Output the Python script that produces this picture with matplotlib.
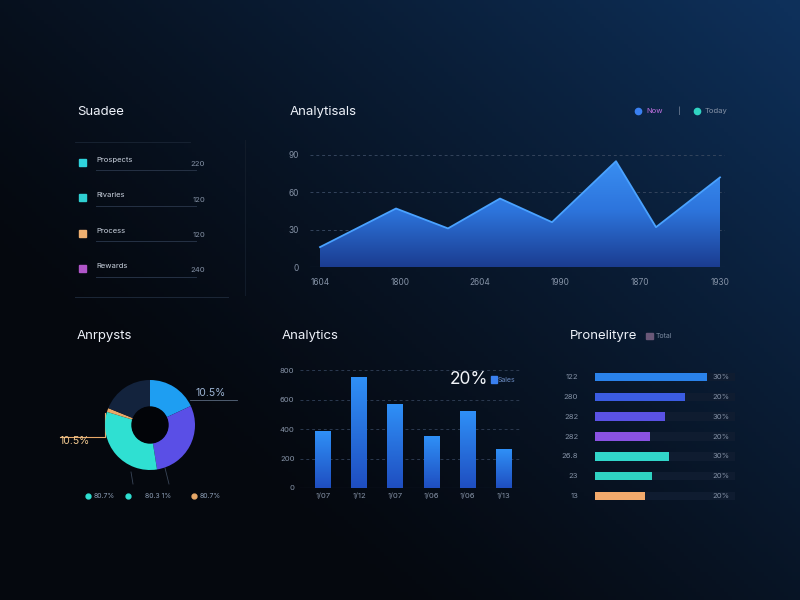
import numpy as np
import matplotlib.pyplot as plt
from matplotlib.colors import LinearSegmentedColormap, to_rgb

plt.rcParams['font.family'] = ['Inter', 'DejaVu Sans']

# ---- data ----
side_labels = ["Prospects", "Rivaries", "Process", "Rewards"]
side_values = ["220", "120", "120", "240"]
side_colors = ["#2fd3dc", "#2fd0d2", "#f0b070", "#b055c8"]

area_x = [0, 19, 32, 45, 58, 74, 84, 100]
area_y = [16, 47, 31, 55, 36, 85, 32, 72]
area_xticks = [0, 20, 40, 60, 80, 100]
area_xlabels = ["1604", "1800", "2604", "1990", "1870", "1930"]
area_yticks = [0, 30, 60, 90]

donut_sizes = [65, 106, 116, 5, 68]
donut_colors = ["#1e9ef2", "#5a4fe6", "#2fe0d2", "#e8a868", "#13233d"]

bar_values = [380, 746, 569, 346, 522, 264]
bar_labels = ["1/07", "1/12", "1/07", "1/06", "1/06", "1/13"]
bar_yticks = [0, 200, 400, 600, 800]

hbar_values = [80, 64, 50, 39, 53, 41, 36]
hbar_left = ["122", "280", "282", "282", "26.8", "23", "13"]
hbar_right = ["30%", "20%", "30%", "20%", "30%", "20%", "20%"]
hbar_colors = ["#2a82ea", "#3b5ce2", "#5a52e4", "#8a52e2", "#31d6ca", "#2fd2c2", "#f2aa6c"]

W, H = 800, 600
fig = plt.figure(figsize=(8, 6), dpi=100)

def rect(x0, y0, x1, y1):
    return [x0 / W, 1 - y1 / H, (x1 - x0) / W, (y1 - y0) / H]

def ftext(x, y, s, **kw):
    fig.text(x / W, 1 - y / H, s, **kw)

def fline(xs, ys, **kw):
    bg.plot(xs, ys, **kw)

# ---- background ----
bg = fig.add_axes([0, 0, 1, 1])
gx, gy = np.meshgrid(np.linspace(0, 1, 200), np.linspace(1, 0, 150))
t = np.clip((0.7 * gx + 0.6 * gy - 0.33) / 0.95, 0, 1) ** 1.25
c0 = np.array(to_rgb("#05080e"))
c1 = np.array(to_rgb("#0e305a"))
img = c0 + (c1 - c0) * t[..., None]
bg.imshow(img, extent=[0, W, H, 0], aspect='auto')
bg.set_xlim(0, W)
bg.set_ylim(H, 0)
bg.axis('off')

title_kw = dict(color="#eef2fa", fontsize=9.5, va='center')
tick_c = "#8592a6"

# ---- panel 1: list ----
ftext(77, 112, "Suadee", **title_kw)
fline([75, 190], [142, 142], color="#1a2535", lw=0.6)
for i, (lab, val, col) in enumerate(zip(side_labels, side_values, side_colors)):
    y = 162 + i * 35.5
    bg.add_patch(plt.Rectangle((79, y - 3.5), 7, 7, color=col))
    ftext(96, y, lab, color="#c8d0dc", fontsize=5.5)
    ftext(205, y + 4, val, color=tick_c, fontsize=5.5, ha='right')
    fline([96, 196], [y + 8, y + 8], color="#253245", lw=0.7)
fline([75, 228], [297, 297], color="#1c2738", lw=0.7)
fline([245, 245], [140, 295], color="#121c2a", lw=0.7)

# ---- panel 2: area ----
ftext(290, 112, "Analytisals", **title_kw)
bg.plot([638], [111], 'o', color="#3a80f2", ms=4.5)
ftext(646, 111, "Now", color="#c070e0", fontsize=5.5, va='center')
ftext(678, 111, "|", color=tick_c, fontsize=5.5, va='center')
bg.plot([697], [111], 'o', color="#30d4c2", ms=4.5)
ftext(705, 111, "Today", color=tick_c, fontsize=5.5, va='center')

ax = fig.add_axes(rect(310, 150, 725, 267))
ax.patch.set_alpha(0)
area_cmap = LinearSegmentedColormap.from_list("a", ["#1b3c90", "#2d74dc", "#3b92f5"])
poly = ax.fill_between(area_x, area_y, 0, color='none')
grad = np.linspace(0, 1, 256).reshape(-1, 1)
im = ax.imshow(grad, extent=[0, 100, 0, 90], origin='lower', cmap=area_cmap, aspect='auto', zorder=2)
im.set_clip_path(poly.get_paths()[0], transform=ax.transData)
ax.plot(area_x, area_y, color="#4aa2ff", lw=1.3, zorder=3)
for v in area_yticks[1:]:
    ax.axhline(v, color="#34445c", lw=0.7, ls=(0, (3, 3)), zorder=1)
ax.axhline(0, color="#2a3a52", lw=0.8, zorder=1)
ax.set_xlim(-2.5, 101.25)
ax.set_ylim(0, 94)
ax.set_xticks(area_xticks, area_xlabels)
ax.set_yticks(area_yticks, [str(v) for v in area_yticks])
ax.tick_params(length=0, colors=tick_c, labelsize=6)
ax.tick_params(axis='y', pad=8)
ax.tick_params(axis='x', pad=8)
for s in ax.spines.values():
    s.set_visible(False)

# ---- panel 3: donut ----
ftext(77, 336, "Anrpysts", **title_kw)
dx = fig.add_axes(rect(60, 335, 240, 515))
dx.patch.set_alpha(0)
dx.pie(donut_sizes, colors=donut_colors, startangle=90, counterclock=False,
       radius=1, wedgeprops=dict(width=0.6, edgecolor='none'))
dx.add_patch(plt.Circle((0, 0), 0.4, color="#020408"))
dx.set_xlim(-2, 2)
dx.set_ylim(-2, 2)
dx.set_aspect('equal')
dx.axis('off')
ftext(195, 393, "10.5%", color="#9db4d4", fontsize=7.5, va='center')
fline([190, 237], [400, 400], color="#5a6a80", lw=0.6)
ftext(60, 441, "10.5%", color="#f0c890", fontsize=7.5, va='center')
fline([60, 105, 105], [437, 437, 413], color="#e8a868", lw=0.8)
fline([131, 133], [472, 484], color="#3a4658", lw=0.6)
fline([165, 169], [468, 484], color="#3a4658", lw=0.6)
bg.plot([88], [496], 'o', color="#2fe0d2", ms=3.5)
ftext(94, 496, "80.7%", color="#8fa0b8", fontsize=5, va='center')
bg.plot([128], [496], 'o', color="#2fe0d2", ms=3.5)
ftext(145, 496, "80.3 1%", color="#8fa0b8", fontsize=5, va='center')
bg.plot([194], [496], 'o', color="#e8a868", ms=3.5)
ftext(200, 496, "80.7%", color="#8fa0b8", fontsize=5, va='center')

# ---- panel 4: bars ----
ftext(282, 336, "Analytics", **title_kw)
bx = fig.add_axes(rect(300, 365, 520, 488))
bx.patch.set_alpha(0)
bar_cmap = LinearSegmentedColormap.from_list("b", ["#1f4ec0", "#2f90f7"])
bw = 0.42
for i, v in enumerate(bar_values):
    bx.imshow(grad, extent=[i - bw / 2, i + bw / 2, 0, v], origin='lower',
              cmap=bar_cmap, aspect='auto', zorder=2)
for v in bar_yticks[1:]:
    bx.axhline(v, color="#2c3a50", lw=0.7, ls=(0, (3, 3)), zorder=1)
bx.axhline(0, color="#2a3a52", lw=0.8, zorder=1)
bx.set_xlim(-0.64, 5.47)
bx.set_ylim(0, 834)
bx.set_xticks(range(len(bar_labels)), bar_labels)
bx.set_yticks(bar_yticks, [str(v) for v in bar_yticks])
bx.tick_params(length=0, colors=tick_c, labelsize=5.5)
bx.tick_params(axis='y', pad=4)
for s in bx.spines.values():
    s.set_visible(False)
ftext(450, 380, "20%", color="#f2f5fa", fontsize=12.5, va='center')
bg.add_patch(plt.Rectangle((491, 376), 6, 7, color="#3a80f0"))
ftext(498, 380, "Sales", color="#6a8ac0", fontsize=5, va='center')

# ---- panel 5: hbars ----
ftext(570, 336, "Pronelityre", **title_kw)
bg.add_patch(plt.Rectangle((646, 333), 7, 6, color="#6a5878"))
ftext(656, 336, "Total", color="#7a8aa0", fontsize=5, va='center')
hx = fig.add_axes(rect(595, 367, 735, 506))
hx.patch.set_alpha(0)
ypos = np.arange(len(hbar_values))
hx.barh(ypos, [100] * len(ypos), height=0.42, color="#0f1c30", zorder=1)
hx.barh(ypos, hbar_values, height=0.42, color=hbar_colors, zorder=2)
for i in ypos:
    hx.text(-12, i, hbar_left[i], color=tick_c, fontsize=5.5, ha='right', va='center')
    hx.text(84, i, hbar_right[i], color=tick_c, fontsize=5.5, ha='left', va='center', zorder=3)
hx.set_xlim(0, 100)
hx.set_ylim(6.5, -0.5)
hx.axis('off')

fig.savefig("out.png", dpi=100)
